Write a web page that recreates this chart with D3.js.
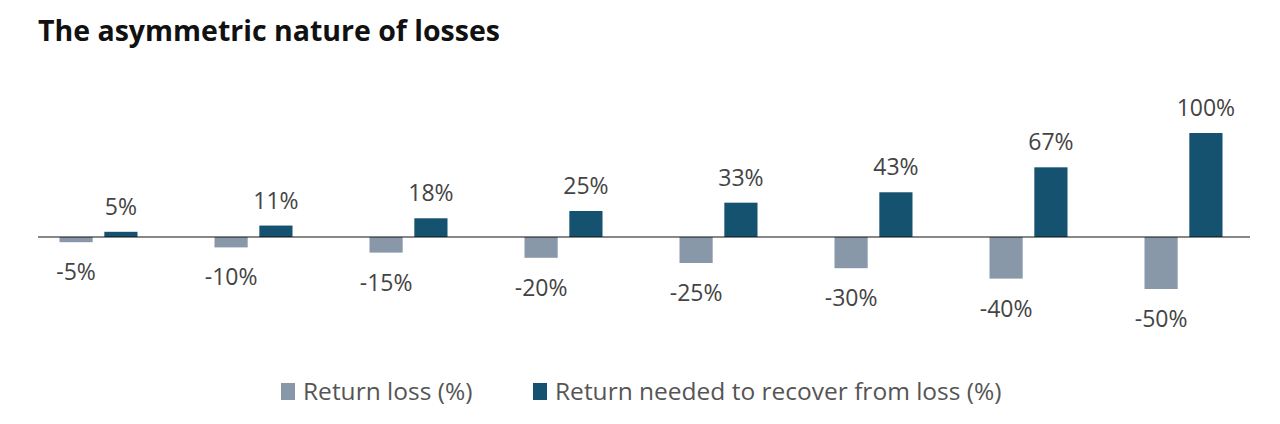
<!DOCTYPE html>
<meta charset="utf-8">
<style>
body { margin: 0; background: #fff; }
svg text { font-family: "Open Sans", sans-serif; }
.title { font-weight: 700; font-size: 28.5px; fill: #111; }
.val { font-size: 23px; fill: #444; text-anchor: middle; }
.leg { font-size: 24.5px; fill: #555; }
</style>
<svg width="1280" height="424"></svg>
<script src="https://cdnjs.cloudflare.com/ajax/libs/d3/7.8.5/d3.min.js"></script>
<script>

var categories = ["-5%", "-10%", "-15%", "-20%", "-25%", "-30%", "-40%", "-50%"];
var lossValues = [-5, -10, -15, -20, -25, -30, -40, -50];
var recoverValues = [5, 11, 18, 25, 33, 43, 67, 100];
var seriesNames = ["Return loss (%)", "Return needed to recover from loss (%)"];
var colors = ["#8898a9", "#14526f"];

var svg = d3.select("svg");

svg.append("text")
    .attr("class", "title")
    .attr("x", 38)
    .attr("y", 41)
    .text("The asymmetric nature of losses");

var x = d3.scaleBand()
    .domain(categories)
    .range([21, 1261]);

var sub = d3.scaleBand()
    .domain([0, 1])
    .range([0, 78])
    .paddingInner(0.26);

var y = d3.scaleLinear()
    .domain([-50, 100])
    .range([289, 133]);

var g = svg.append("g");

var groups = g.selectAll(".grp")
    .data(categories)
    .enter().append("g")
      .attr("class", "grp")
      .attr("transform", function(d) { return "translate(" + (x(d) + x.bandwidth() / 2 - 39) + ",0)"; });

// loss bars
groups.append("rect")
    .attr("x", sub(0))
    .attr("width", sub.bandwidth())
    .attr("y", y(0))
    .attr("height", function(d, i) { return y(lossValues[i]) - y(0); })
    .attr("fill", colors[0]);

groups.append("text")
    .attr("class", "val")
    .attr("x", sub(0) + sub.bandwidth() / 2)
    .attr("y", function(d, i) { return y(lossValues[i]) + 38; })
    .text(function(d, i) { return lossValues[i] + "%"; });

// recovery bars
groups.append("rect")
    .attr("x", sub(1))
    .attr("width", sub.bandwidth())
    .attr("y", function(d, i) { return y(recoverValues[i]); })
    .attr("height", function(d, i) { return y(0) - y(recoverValues[i]); })
    .attr("fill", colors[1]);

groups.append("text")
    .attr("class", "val")
    .attr("x", sub(1) + sub.bandwidth() / 2)
    .attr("y", function(d, i) { return y(recoverValues[i]) - 17; })
    .text(function(d, i) { return recoverValues[i] + "%"; });

// zero line
g.append("line")
    .attr("x1", 38).attr("x2", 1250)
    .attr("y1", y(0)).attr("y2", y(0))
    .attr("stroke", "#111")
    .attr("stroke-width", 1.2);

// legend
var legX = [281, 533];
var leg = svg.selectAll(".legitem")
    .data(seriesNames)
    .enter().append("g")
      .attr("transform", function(d, i) { return "translate(" + legX[i] + ",383)"; });

leg.append("rect")
    .attr("width", 14).attr("height", 17)
    .attr("fill", function(d, i) { return colors[i]; });

leg.append("text")
    .attr("class", "leg")
    .attr("x", 22)
    .attr("y", 17)
    .text(function(d) { return d; });

</script>
